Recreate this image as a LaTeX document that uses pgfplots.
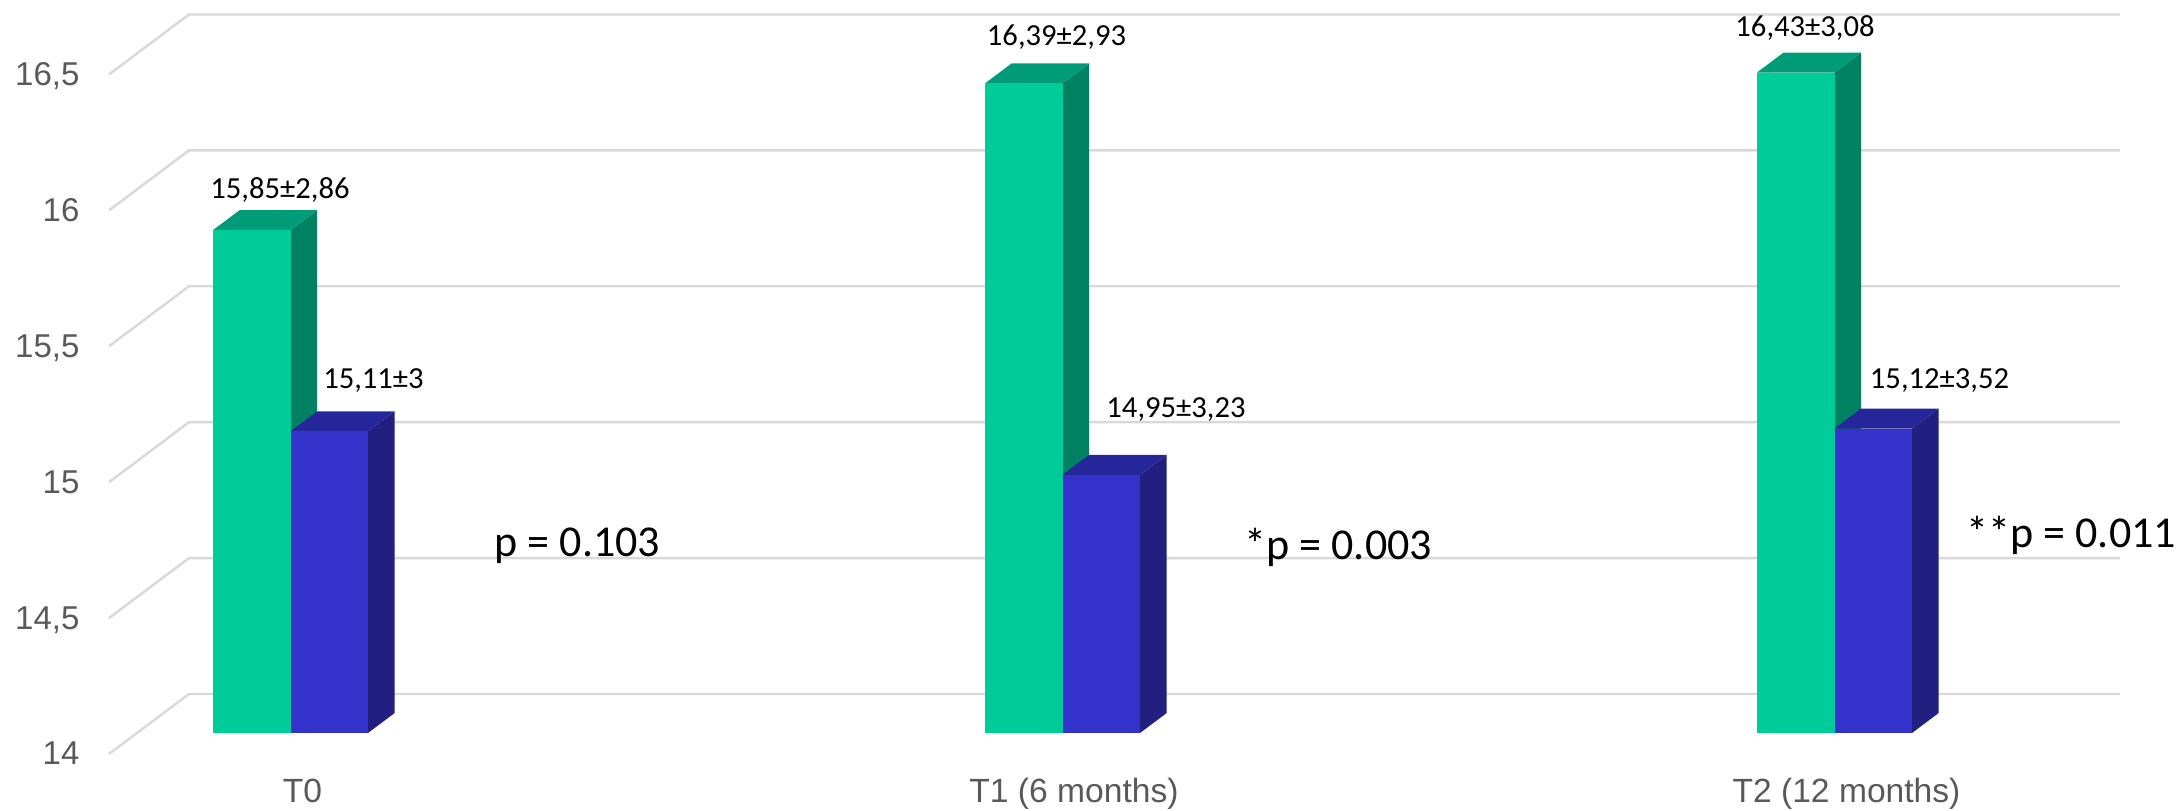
\documentclass[border=0pt]{standalone}
\usepackage{pgfplots}
\pgfplotsset{compat=1.18}
\usepackage{pgfplotstable}
\usepackage{fontspec}
\setmainfont{Carlito}
\newfontfamily\axisfont{Liberation Sans}

\definecolor{grnF}{HTML}{00CC99}
\definecolor{grnS}{HTML}{008262}
\definecolor{grnT}{HTML}{009B77}
\definecolor{bluF}{HTML}{3333CC}
\definecolor{bluS}{HTML}{211F7F}
\definecolor{bluT}{HTML}{26269B}
\definecolor{gridc}{HTML}{D9D9D9}
\definecolor{labc}{HTML}{595959}

\tikzset{
  ticklab/.style={font=\axisfont\fontsize{11bp}{13bp}\selectfont, text=labc, inner sep=0pt, anchor=base east},
  catlab/.style={font=\axisfont\fontsize{11.2bp}{13bp}\selectfont, text=labc, inner sep=0pt, anchor=base},
  vallab/.style={font=\fontsize{10.2bp}{12bp}\selectfont, inner sep=0pt, anchor=base},
  plab/.style={font=\fontsize{14.7bp}{17bp}\selectfont, inner sep=0pt, anchor=base west},
}

% mean scores per time point: left edge of the group (x units) and the two series
\pgfplotstableread{
time  left  s1     s2
T0    213   15.85  15.11
T1    985   16.39  14.95
T2    1757  16.43  15.12
}\means

% bar geometry: front width, depth offset (x units, value units)
\def\bw{77.5}
\def\dx{26.7}
\def\dv{0.0736}

% one box-shaped bar: #1 left x, #2 value, #3 front, #4 side, #5 top colour
\newcommand\barbox[5]{%
  \pgfmathsetmacro\xa{#1}%
  \pgfmathsetmacro\xb{#1+\bw}%
  \pgfmathsetmacro\xc{#1+\bw+\dx}%
  \pgfmathsetmacro\xd{#1+\dx}%
  \pgfmathsetmacro\vt{#2}%
  \pgfmathsetmacro\vtb{#2+\dv}%
  \pgfmathsetmacro\vbb{14+\dv}%
  \edef\tmp{%
    \noexpand\addplot[draw=none,fill=#4] coordinates {(\xb,14) (\xc,\vbb) (\xc,\vtb) (\xb,\vt)};
    \noexpand\addplot[draw=none,fill=#5] coordinates {(\xa,\vt) (\xb,\vt) (\xc,\vtb) (\xd,\vtb)};
    \noexpand\addplot[draw=none,fill=#3] coordinates {(\xa,14) (\xb,14) (\xb,\vt) (\xa,\vt)};
  }\tmp
}

\begin{document}
\begin{tikzpicture}
\begin{axis}[
  at={(0,0)}, anchor=south west,
  width=728bp, height=270.333bp, scale only axis,
  xmin=0, xmax=2184, ymin=13.71302, ymax=16.69684,
  enlargelimits=false, hide axis, clip=false,
]
% gridlines: side wall then back wall
\pgfplotsforeachungrouped \t in {14,14.5,15,15.5,16,16.5}{%
  \pgfmathsetmacro\vf{\t-0.0773}%
  \pgfmathsetmacro\vb{\t+0.1435}%
  \edef\tmp{\noexpand\addplot[gridc, line width=0.8bp] coordinates {(109,\vf) (189,\vb) (2120,\vb)};}\tmp
}
% bars
\pgfplotsforeachungrouped \r in {0,1,2}{%
  \pgfplotstablegetelem{\r}{left}\of\means \let\rowleft\pgfplotsretval
  \pgfplotstablegetelem{\r}{s1}\of\means \let\valA\pgfplotsretval
  \pgfplotstablegetelem{\r}{s2}\of\means \let\valB\pgfplotsretval
  \barbox{\rowleft}{\valA}{grnF}{grnS}{grnT}%
  \pgfmathsetmacro\leftB{\rowleft+\bw}%
  \barbox{\leftB}{\valB}{bluF}{bluS}{bluT}%
}
% value axis labels
\node[ticklab] at (axis cs:80,13.8825) {14};
\node[ticklab] at (axis cs:80,14.3825) {14,5};
\node[ticklab] at (axis cs:80,14.8825) {15};
\node[ticklab] at (axis cs:80,15.3825) {15,5};
\node[ticklab] at (axis cs:80,15.8825) {16};
\node[ticklab] at (axis cs:80,16.3825) {16,5};
% category labels
\node[catlab] at (axis cs:302.5,13.7425) {T0};
\node[catlab] at (axis cs:1074,13.7425) {T1 (6 months)};
\node[catlab] at (axis cs:1846.5,13.7425) {T2 (12 months)};
% mean ± SD labels
\node[vallab] at (axis cs:280,15.9647) {15,85±2,86};
\node[vallab] at (axis cs:373.5,15.2656) {15,11±3};
\node[vallab] at (axis cs:1056.5,16.5294) {16,39±2,93};
\node[vallab] at (axis cs:1176,15.1589) {14,95±3,23};
\node[vallab] at (axis cs:1805,16.5607) {16,43±3,08};
\node[vallab] at (axis cs:1939.5,15.2656) {15,12±3,52};
% significance
\node[plab] at (axis cs:494,14.6475) {p = 0.103};
\node[plab] at (axis cs:1244,14.640) {*p = 0.003};
\node[plab] at (axis cs:1966,14.6807) {**p = 0.011};
\end{axis}
\pgfresetboundingbox
\path (0,0) rectangle (728bp,270.333bp);
\end{tikzpicture}
\end{document}
